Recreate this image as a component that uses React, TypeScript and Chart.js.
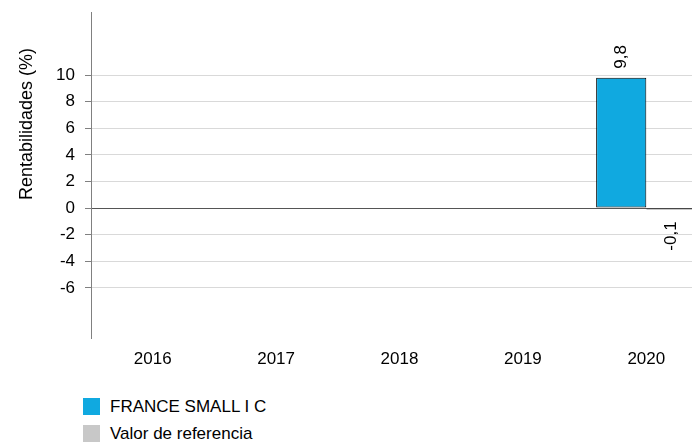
import React, { useEffect, useRef } from "react";
import { Chart, registerables } from "chart.js";

Chart.register(...registerables);

const categories = ["2016", "2017", "2018", "2019", "2020"];
const fundName = "FRANCE SMALL I C";
const refName = "Valor de referencia";
const fundValues: (number | null)[] = [null, null, null, null, 9.8];
const refValues: (number | null)[] = [null, null, null, null, -0.1];
const yTickValues = [-6, -4, -2, 0, 2, 4, 6, 8, 10];
const yMin = -9.77;
const yMax = 14.74;
const yTitle = "Rentabilidades (%)";

const FUND_COLOR = "#10a9e0";
const REF_COLOR = "#c8c8c8";
const FONT = "'Liberation Sans', Arial, sans-serif";

const fmt = (v: number) => v.toFixed(1).replace(".", ",");

export default function App() {
  const ref = useRef<HTMLCanvasElement | null>(null);

  useEffect(() => {
    if (!ref.current) return;
    const labelPlugin = {
      id: "valueLabels",
      afterDatasetsDraw(chart: any) {
        const ctx = chart.ctx;
        ctx.save();
        ctx.font = `17px ${FONT}`;
        ctx.fillStyle = "#000";
        ctx.textBaseline = "middle";
        chart.data.datasets.forEach((ds: any, di: number) => {
          const meta = chart.getDatasetMeta(di);
          meta.data.forEach((el: any, i: number) => {
            const v = ds.data[i];
            if (v === null || v === undefined) return;
            const props = el.getProps(["x", "y", "base"], true);
            ctx.save();
            if (v >= 0) {
              ctx.translate(props.x, Math.min(props.y, props.base) - 9);
              ctx.rotate(-Math.PI / 2);
              ctx.textAlign = "left";
            } else {
              ctx.translate(props.x, Math.max(props.y, props.base) + 12);
              ctx.rotate(-Math.PI / 2);
              ctx.textAlign = "right";
            }
            ctx.fillText(fmt(v), 0, 0);
            ctx.restore();
          });
        });
        ctx.restore();
      },
    };
    const titlePlugin = {
      id: "yTitle",
      afterDraw(chart: any) {
        const ctx = chart.ctx;
        ctx.save();
        ctx.font = `18px ${FONT}`;
        ctx.fillStyle = "#000";
        ctx.textAlign = "center";
        ctx.textBaseline = "middle";
        ctx.translate(19, 116);
        ctx.rotate(-Math.PI / 2);
        ctx.fillText(yTitle, 0, 0);
        ctx.restore();
      },
    };
    const chart = new Chart(ref.current, {
      type: "bar",
      data: {
        labels: categories,
        datasets: [
          {
            label: fundName,
            data: fundValues,
            backgroundColor: FUND_COLOR,
            borderColor: "#000",
            borderWidth: 1,
            borderSkipped: false,
          },
          {
            label: refName,
            data: refValues,
            backgroundColor: REF_COLOR,
            borderColor: "#222",
            borderWidth: 1.5,
            borderSkipped: false,
          },
        ],
      },
      options: {
        animation: false,
        responsive: false,
        maintainAspectRatio: false,
        layout: { padding: { top: 4, left: 0, right: 0, bottom: 0 } },
        datasets: { bar: { categoryPercentage: 0.813, barPercentage: 1.0 } },
        plugins: { legend: { display: false }, tooltip: { enabled: false } },
        scales: {
          x: {
            grid: { display: false, drawTicks: false },
            border: { display: false },
            ticks: {
              padding: 11,
              color: "#000",
              font: { family: FONT, size: 17 },
              maxRotation: 0,
            },
            afterFit(scale: any) {
              scale.height = 40;
              scale.paddingLeft = 0;
              scale.paddingRight = 0;
            },
          },
          y: {
            min: yMin,
            max: yMax,
            afterBuildTicks(scale: any) {
              scale.ticks = yTickValues.map((v) => ({ value: v }));
            },
            grid: {
              color: (c: any) => (c.tick && c.tick.value === 0 ? "#555555" : "#d9d9d9"),
              tickColor: "#808080",
              tickLength: 6,
              lineWidth: 1,
            },
            border: { display: true, color: "#808080", width: 1 },
            ticks: {
              padding: 10,
              color: "#000",
              font: { family: FONT, size: 17 },
              callback: (v: any) => String(v),
            },
            afterFit(scale: any) {
              scale.width = 83;
              scale.paddingTop = 0;
              scale.paddingBottom = 0;
            },
          },
        },
      },
      plugins: [labelPlugin, titlePlugin],
    } as any);
    return () => chart.destroy();
  }, []);

  const legendItem = (color: string, text: string, top: number) => (
    <div style={{ position: "absolute", left: 75, top, display: "flex", alignItems: "center", height: 17 }}>
      <div style={{ width: 17, height: 17, background: color }} />
      <span style={{ marginLeft: 10, fontFamily: FONT, fontSize: 17, color: "#000", whiteSpace: "nowrap" }}>{text}</span>
    </div>
  );

  return (
    <div style={{ position: "relative", width: 692, height: 438, overflow: "hidden" }}>
      <canvas ref={ref} width={700} height={370} style={{ display: "block", width: 700, height: 370 }} />
      {legendItem(FUND_COLOR, fundName, 390)}
      {legendItem(REF_COLOR, refName, 417)}
    </div>
  );
}
